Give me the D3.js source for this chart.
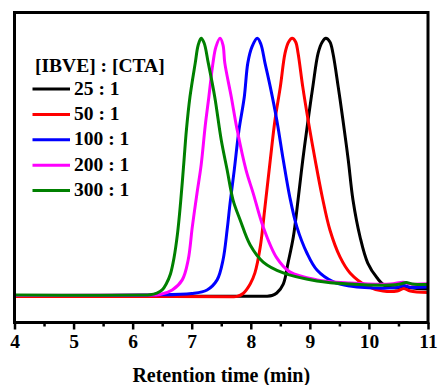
<!DOCTYPE html>
<html>
<head>
<meta charset="utf-8">
<script src="https://cdn.jsdelivr.net/npm/d3@7"></script>
<style>
  body { margin: 0; background: #fff; }
  svg { display: block; }
  text { font-family: "Liberation Serif", "Times New Roman", serif; font-weight: bold; fill: #000; }
</style>
</head>
<body>
<div id="chart"></div>
<script>
// ---------- data (retention time in min, normalized RI signal) ----------
const legendTitle = "[IBVE] : [CTA]";
const seriesLabels = ["25 : 1", "50 : 1", "100 : 1", "200 : 1", "300 : 1"];
const seriesColors = ["#000000", "#ff0000", "#0000ff", "#ff00ff", "#008000"];
const xTicks = [4, 5, 6, 7, 8, 9, 10, 11];
const xLabel = "Retention time (min)";

const s25 = [[4.00,0.0026],[7.99,0.0014],[8.26,0.0016],[8.36,0.0045],[8.44,0.0142],[8.55,0.049],[8.63,0.130],[8.72,0.231],[8.80,0.374],[8.88,0.529],[8.97,0.684],[9.05,0.812],[9.14,0.943],[9.21,0.986],[9.27,1.0],[9.34,0.986],[9.39,0.943],[9.48,0.812],[9.56,0.684],[9.65,0.529],[9.73,0.374],[9.85,0.231],[9.98,0.130],[10.14,0.072],[10.27,0.043],[10.48,0.034],[10.59,0.041],[10.70,0.034],[11.00,0.030]];
const s50 = [[4.00,0.0007],[6.30,0.0007],[7.65,0.0],[7.77,0.0010],[7.87,0.0123],[7.99,0.049],[8.07,0.092],[8.16,0.192],[8.24,0.347],[8.33,0.529],[8.41,0.684],[8.50,0.812],[8.58,0.943],[8.64,0.986],[8.70,1.0],[8.76,0.986],[8.80,0.943],[8.88,0.812],[8.97,0.684],[9.09,0.529],[9.21,0.386],[9.34,0.258],[9.51,0.154],[9.68,0.092],[9.97,0.041],[10.24,0.022],[10.48,0.022],[10.59,0.032],[10.70,0.022],[11.00,0.016]];
const s100 = [[4.00,0.0045],[6.29,0.0065],[7.00,0.0123],[7.26,0.026],[7.43,0.065],[7.53,0.142],[7.60,0.26],[7.65,0.363],[7.72,0.490],[7.80,0.645],[7.89,0.773],[7.95,0.905],[8.02,0.967],[8.11,1.0],[8.17,0.978],[8.24,0.905],[8.33,0.812],[8.44,0.684],[8.55,0.529],[8.66,0.386],[8.78,0.270],[8.95,0.169],[9.12,0.103],[9.40,0.057],[9.68,0.041],[10.24,0.033],[10.48,0.036],[10.59,0.043],[10.70,0.036],[11.00,0.037]];
const s200 = [[4.00,0.0045],[6.13,0.0065],[6.46,0.0084],[6.67,0.026],[6.84,0.065],[6.94,0.142],[7.01,0.270],[7.09,0.401],[7.16,0.510],[7.23,0.664],[7.29,0.773],[7.36,0.905],[7.41,0.967],[7.48,1.0],[7.53,0.974],[7.56,0.905],[7.67,0.773],[7.77,0.645],[7.92,0.490],[8.04,0.401],[8.21,0.270],[8.44,0.150],[8.66,0.096],[9.12,0.065],[9.68,0.053],[10.36,0.049],[10.58,0.056],[10.70,0.049],[11.00,0.050]];
const s300 = [[4.00,0.0065],[5.45,0.0055],[6.13,0.0065],[6.29,0.0075],[6.41,0.014],[6.50,0.026],[6.57,0.050],[6.64,0.088],[6.70,0.150],[6.76,0.245],[6.81,0.360],[6.87,0.529],[6.91,0.645],[6.97,0.773],[7.06,0.905],[7.11,0.974],[7.16,1.0],[7.21,0.982],[7.28,0.905],[7.39,0.773],[7.50,0.606],[7.60,0.490],[7.70,0.374],[7.82,0.297],[7.99,0.200],[8.21,0.134],[8.55,0.092],[9.12,0.061],[9.68,0.049],[10.36,0.045],[10.53,0.049],[10.63,0.055],[10.73,0.049],[11.00,0.047]];
const seriesData = [s25, s50, s100, s200, s300];

// ---------- layout ----------
const W = 438, H = 385;
const m = { left: 14.5, right: 10, top: 12.5, bottom: 62.5 };

const svg = d3.select("#chart").append("svg").attr("width", W).attr("height", H);

const x = d3.scaleLinear().domain([4, 11]).range([m.left, W - m.right]);
const y = d3.scaleLinear().domain([-0.1, 1.1]).range([H - m.bottom, m.top]);

svg.append("defs").append("clipPath").attr("id", "clip")
  .append("rect").attr("x", m.left).attr("y", m.top)
  .attr("width", x(11) - x(4)).attr("height", y(-0.1) - y(1.1));

const line = d3.line().x(d => x(d[0])).y(d => y(d[1])).curve(d3.curveCatmullRom.alpha(0.5));

const g = svg.append("g").attr("clip-path", "url(#clip)");
seriesData.forEach((s, i) => {
  g.append("path").datum(s).attr("d", line)
    .attr("fill", "none").attr("stroke", seriesColors[i])
    .attr("stroke-width", 3).attr("stroke-linejoin", "round");
});

// frame
svg.append("rect").attr("x", x(4)).attr("y", y(1.1))
  .attr("width", x(11) - x(4)).attr("height", y(-0.1) - y(1.1))
  .attr("fill", "none").attr("stroke", "#000").attr("stroke-width", 3);

// minor ticks
const minorTicks = d3.range(4.5, 11, 1);
const xAxisMinor = d3.axisBottom(x).tickValues(minorTicks).tickSize(4).tickFormat("");
const gm = svg.append("g").attr("transform", `translate(0,${y(-0.1)})`).call(xAxisMinor);
gm.select(".domain").remove();
gm.selectAll("line").attr("stroke-width", 2.5);

// major ticks
const xAxis = d3.axisBottom(x).tickValues(xTicks).tickSize(7).tickPadding(5).tickFormat(d3.format("d"));
const ga = svg.append("g").attr("transform", `translate(0,${y(-0.1)})`).call(xAxis);
ga.select(".domain").remove();
ga.selectAll("line").attr("stroke-width", 2.5);
ga.selectAll("text").attr("font-size", "19.5px").attr("font-family", "Liberation Serif, Times New Roman, serif").attr("font-weight", "bold").attr("fill", "#000");

// axis title
svg.append("text").attr("x", (x(4) + x(11)) / 2).attr("y", 381.5)
  .attr("text-anchor", "middle").attr("font-size", "20px").text(xLabel);

// legend
svg.append("text").attr("x", 35).attr("y", 71.5).attr("font-size", "19.5px").text(legendTitle);
seriesLabels.forEach((lab, i) => {
  const yy = 89 + i * 25.4;
  svg.append("line").attr("x1", 32.5).attr("x2", 70).attr("y1", yy).attr("y2", yy)
    .attr("stroke", seriesColors[i]).attr("stroke-width", 3);
  svg.append("text").attr("x", 74).attr("y", yy + 5.5).attr("font-size", "19.5px").text(lab);
});
</script>
</body>
</html>
